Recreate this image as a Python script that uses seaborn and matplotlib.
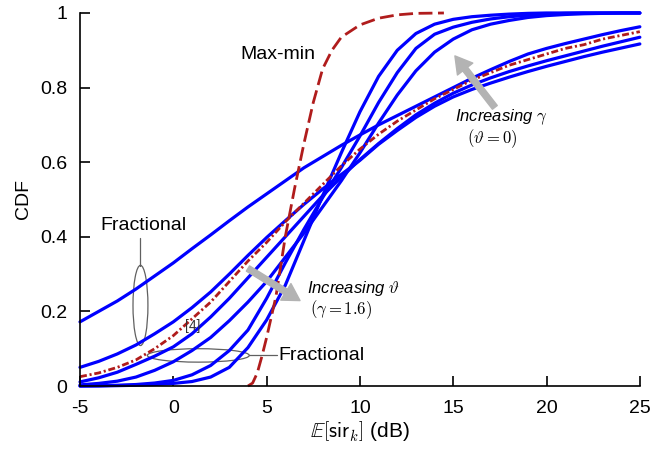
import numpy as np
import matplotlib
matplotlib.use("Agg")
import matplotlib.pyplot as plt
from matplotlib.patches import Ellipse
import seaborn as sns

# ==========================================
# Data (CDF vs mean SIR in dB)
# ==========================================
X_DB = np.arange(-5, 26)  # sampling grid, 1 dB steps

# fractional power control curves (blue)
FRAC_A = [0.172, 0.200, 0.228, 0.260, 0.295, 0.330, 0.368, 0.405, 0.443, 0.480,
          0.515, 0.550, 0.585, 0.615, 0.645, 0.673, 0.700, 0.725, 0.750, 0.775,
          0.800, 0.825, 0.848, 0.870, 0.890, 0.905, 0.918, 0.930, 0.942, 0.953, 0.963]
FRAC_B = [0.050, 0.066, 0.086, 0.110, 0.140, 0.172, 0.210, 0.252, 0.300, 0.350,
          0.398, 0.443, 0.487, 0.528, 0.567, 0.605, 0.648, 0.685, 0.720, 0.750,
          0.775, 0.795, 0.812, 0.828, 0.843, 0.857, 0.870, 0.883, 0.895, 0.906, 0.917]
FRAC_C = [0.011, 0.022, 0.037, 0.058, 0.080, 0.105, 0.140, 0.185, 0.235, 0.290,
          0.345, 0.400, 0.455, 0.510, 0.560, 0.607, 0.650, 0.690, 0.727, 0.758,
          0.785, 0.807, 0.826, 0.843, 0.858, 0.872, 0.885, 0.898, 0.911, 0.923, 0.935]
FRAC_D = [0.003, 0.007, 0.013, 0.024, 0.042, 0.065, 0.095, 0.130, 0.175, 0.225,
          0.280, 0.345, 0.410, 0.480, 0.550, 0.625, 0.705, 0.780, 0.845, 0.895,
          0.930, 0.955, 0.970, 0.980, 0.988, 0.993, 0.996, 0.998, 0.999, 1.000, 1.000]
FRAC_E = [0.000, 0.001, 0.002, 0.004, 0.008, 0.015, 0.030, 0.055, 0.095, 0.150,
          0.235, 0.330, 0.420, 0.505, 0.585, 0.670, 0.760, 0.840, 0.905, 0.943,
          0.962, 0.975, 0.984, 0.990, 0.994, 0.997, 0.999, 1.000, 1.000, 1.000, 1.000]
FRAC_F = [0.000, 0.000, 0.001, 0.002, 0.004, 0.007, 0.012, 0.024, 0.050, 0.103,
          0.177, 0.270, 0.390, 0.510, 0.625, 0.735, 0.830, 0.900, 0.945, 0.970,
          0.983, 0.990, 0.994, 0.997, 0.999, 1.000, 1.000, 1.000, 1.000, 1.000, 1.000]
FRACTIONAL = [FRAC_A, FRAC_B, FRAC_C, FRAC_D, FRAC_E, FRAC_F]

# reference scheme [4] (red dash-dot)
REF4_CDF = [0.025, 0.035, 0.050, 0.070, 0.100, 0.135, 0.180, 0.225, 0.280, 0.335,
            0.385, 0.440, 0.490, 0.540, 0.590, 0.635, 0.675, 0.710, 0.740, 0.770,
            0.795, 0.820, 0.840, 0.860, 0.875, 0.890, 0.905, 0.915, 0.930, 0.940, 0.950]

# max-min power control (red dashed)
MAXMIN_X = [4.0, 4.25, 4.5, 4.75, 5.0, 5.5, 6.0, 6.5, 7.0, 7.5, 8.0, 8.5, 9.0,
            10.0, 11.0, 12.0, 13.0, 14.5]
MAXMIN_CDF = [0.0, 0.008, 0.035, 0.08, 0.13, 0.24, 0.40, 0.53, 0.65, 0.76, 0.85,
              0.90, 0.935, 0.968, 0.986, 0.995, 0.999, 1.0]

X_TICKS = [-5, 0, 5, 10, 15, 20, 25]
X_TICK_LABELS = ["-5", "0", "5", "10", "15", "20", "25"]
Y_TICKS = [0, 0.2, 0.4, 0.6, 0.8, 1]
Y_TICK_LABELS = ["0", "0.2", "0.4", "0.6", "0.8", "1"]

BLUE = "#0000ff"
DARK_RED = "#b01c1c"
ARROW_GREY = "#b3b3b3"
ELLIPSE_GREY = "#606060"

# ==========================================
# Style
# ==========================================
sns.set_theme(style="ticks")
plt.rcParams["font.family"] = ["Liberation Sans", "DejaVu Sans"]
plt.rcParams["mathtext.fontset"] = "cm"
plt.rcParams["lines.scale_dashes"] = False
plt.rcParams["text.color"] = "black"
plt.rcParams["axes.labelcolor"] = "black"

fig, ax = plt.subplots(figsize=(6.7, 4.51), dpi=100)
fig.subplots_adjust(left=0.1194, right=0.955, bottom=0.1441, top=0.9712)

# ==========================================
# Curves
# ==========================================
for cdf in FRACTIONAL:
    sns.lineplot(x=X_DB, y=cdf, color=BLUE, linewidth=2.3, clip_on=False, ax=ax)

sns.lineplot(x=X_DB, y=REF4_CDF, color=DARK_RED, linewidth=2.0,
             linestyle=(0, (5, 2, 1.5, 2)), clip_on=False, ax=ax)
sns.lineplot(x=MAXMIN_X, y=MAXMIN_CDF, color=DARK_RED, linewidth=2.0,
             linestyle=(0, (10, 4)), clip_on=False, ax=ax)

# ==========================================
# Annotations
# ==========================================
ax.text(3.57, 0.89, "Max-min", fontsize=14, va="center", ha="left")

# upper "Fractional" with vertical ellipse
ax.add_patch(Ellipse((-1.76, 0.216), 0.8, 0.215, fill=False,
                     edgecolor=ELLIPSE_GREY, linewidth=0.9))
ax.plot([-1.76, -1.76], [0.323, 0.397], color=ELLIPSE_GREY, linewidth=0.9)
ax.text(-3.93, 0.43, "Fractional", fontsize=14, va="center", ha="left")

# lower "Fractional" with horizontal ellipse
ax.add_patch(Ellipse((1.34, 0.082), 5.46, 0.036, fill=False,
                     edgecolor=ELLIPSE_GREY, linewidth=0.9))
ax.plot([4.07, 5.55], [0.083, 0.083], color=ELLIPSE_GREY, linewidth=0.9)
ax.text(5.62, 0.081, "Fractional", fontsize=14, va="center", ha="left")

ax.text(1.05, 0.162, "[4]", fontsize=10, va="center", ha="center", color="#333333")

arrow_style = dict(arrowstyle="simple,head_length=0.6,head_width=0.7,tail_width=0.22",
                   color=ARROW_GREY, shrinkA=0, shrinkB=0, mutation_scale=20)
ax.annotate("", xy=(6.79, 0.229), xytext=(4.0, 0.315), arrowprops=arrow_style)
ax.annotate("", xy=(15.09, 0.885), xytext=(17.23, 0.747), arrowprops=arrow_style)

ax.text(7.16, 0.262, r"Increasing $\vartheta$", fontsize=12, style="italic",
        va="center", ha="left")
ax.text(7.3, 0.205, r"$(\gamma = 1.6)$", fontsize=12, va="center", ha="left")
ax.text(15.09, 0.72, r"Increasing $\gamma$", fontsize=12, style="italic",
        va="center", ha="left")
ax.text(15.73, 0.663, r"$(\vartheta = 0)$", fontsize=12, va="center", ha="left")

# ==========================================
# Axes
# ==========================================
ax.set_xlim(-5, 25)
ax.set_ylim(0, 1)
ax.set_xticks(X_TICKS)
ax.set_xticklabels(X_TICK_LABELS)
ax.set_yticks(Y_TICKS)
ax.set_yticklabels(Y_TICK_LABELS)
ax.tick_params(direction="in", length=7, width=1.2, colors="black", labelsize=14)
ax.tick_params(axis="x", pad=10)
ax.tick_params(axis="y", pad=9)
sns.despine(ax=ax)
for side in ["left", "bottom"]:
    ax.spines[side].set_color("black")
    ax.spines[side].set_linewidth(1.2)

ax.set_xlabel(r"$\mathbb{E}\left[\mathsf{sir}_k\right]$ (dB)", fontsize=15, labelpad=2)
ax.set_ylabel("CDF", fontsize=14, labelpad=6)

fig.savefig("out.png", dpi=100)
